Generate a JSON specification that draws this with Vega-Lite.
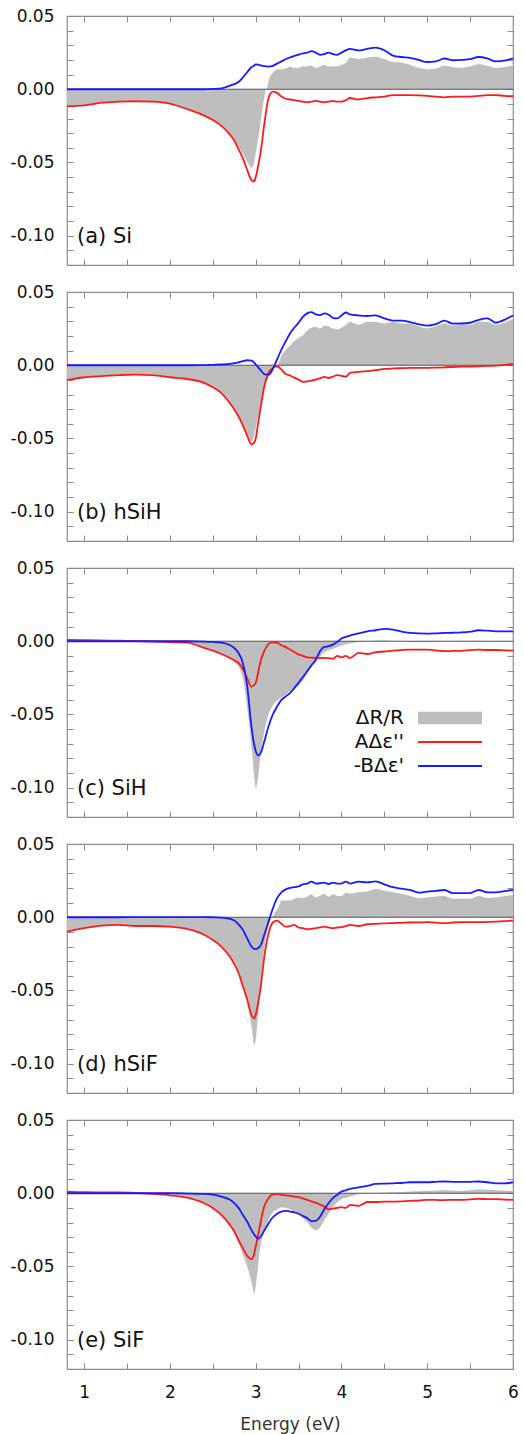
{
"$schema": "https://vega.github.io/schema/vega-lite/v6.json",
"padding": {"left": 9, "top": 6, "right": 2, "bottom": 3},
"datasets": {
"labels": [{"p":"a","t":"(a) Si"},{"p":"b","t":"(b) hSiH"},{"p":"c","t":"(c) SiH"},{"p":"d","t":"(d) hSiF"},{"p":"e","t":"(e) SiF"}],
"d": [
{"p":"a","E":0.8,"A":-0.0116,"B":0,"R":-0.0116},
{"p":"a","E":1.0,"A":-0.011,"B":0,"R":-0.011},
{"p":"a","E":1.2,"A":-0.0092,"B":0,"R":-0.0092},
{"p":"a","E":1.4,"A":-0.0085,"B":0,"R":-0.0085},
{"p":"a","E":1.6,"A":-0.0082,"B":0,"R":-0.0082},
{"p":"a","E":1.8,"A":-0.0085,"B":0,"R":-0.0085},
{"p":"a","E":2.0,"A":-0.0098,"B":0,"R":-0.0098},
{"p":"a","E":2.2,"A":-0.0135,"B":0,"R":-0.0135},
{"p":"a","E":2.4,"A":-0.018,"B":0,"R":-0.018},
{"p":"a","E":2.5,"A":-0.021,"B":0.0002,"R":-0.021},
{"p":"a","E":2.6,"A":-0.025,"B":0.0006,"R":-0.025},
{"p":"a","E":2.7,"A":-0.031,"B":0.0025,"R":-0.031},
{"p":"a","E":2.75,"A":-0.035,"B":0.0035,"R":-0.035},
{"p":"a","E":2.8,"A":-0.041,"B":0.005,"R":-0.040},
{"p":"a","E":2.85,"A":-0.047,"B":0.008,"R":-0.045},
{"p":"a","E":2.9,"A":-0.055,"B":0.0116,"R":-0.050},
{"p":"a","E":2.95,"A":-0.062,"B":0.015,"R":-0.054},
{"p":"a","E":2.98,"A":-0.063,"B":0.016,"R":-0.052},
{"p":"a","E":3.0,"A":-0.060,"B":0.017,"R":-0.046},
{"p":"a","E":3.03,"A":-0.052,"B":0.0168,"R":-0.036},
{"p":"a","E":3.06,"A":-0.042,"B":0.0163,"R":-0.024},
{"p":"a","E":3.1,"A":-0.024,"B":0.0158,"R":-0.008},
{"p":"a","E":3.15,"A":-0.006,"B":0.0155,"R":0.007},
{"p":"a","E":3.2,"A":-0.0016,"B":0.016,"R":0.012},
{"p":"a","E":3.25,"A":-0.0025,"B":0.0175,"R":0.014},
{"p":"a","E":3.3,"A":-0.005,"B":0.019,"R":0.014},
{"p":"a","E":3.35,"A":-0.0065,"B":0.0205,"R":0.0145},
{"p":"a","E":3.4,"A":-0.007,"B":0.0217,"R":0.0158},
{"p":"a","E":3.45,"A":-0.0075,"B":0.0228,"R":0.015},
{"p":"a","E":3.5,"A":-0.008,"B":0.0237,"R":0.015},
{"p":"a","E":3.55,"A":-0.0085,"B":0.0245,"R":0.016},
{"p":"a","E":3.6,"A":-0.009,"B":0.025,"R":0.016},
{"p":"a","E":3.65,"A":-0.0085,"B":0.026,"R":0.0167},
{"p":"a","E":3.7,"A":-0.008,"B":0.025,"R":0.015},
{"p":"a","E":3.75,"A":-0.0085,"B":0.0235,"R":0.016},
{"p":"a","E":3.8,"A":-0.009,"B":0.024,"R":0.017},
{"p":"a","E":3.85,"A":-0.0085,"B":0.025,"R":0.016},
{"p":"a","E":3.9,"A":-0.008,"B":0.024,"R":0.016},
{"p":"a","E":3.95,"A":-0.0085,"B":0.0235,"R":0.016},
{"p":"a","E":4.0,"A":-0.0085,"B":0.025,"R":0.017},
{"p":"a","E":4.05,"A":-0.0075,"B":0.0265,"R":0.0185},
{"p":"a","E":4.1,"A":-0.006,"B":0.0276,"R":0.022},
{"p":"a","E":4.2,"A":-0.007,"B":0.0265,"R":0.021},
{"p":"a","E":4.3,"A":-0.006,"B":0.0276,"R":0.022},
{"p":"a","E":4.4,"A":-0.0055,"B":0.0284,"R":0.0227},
{"p":"a","E":4.5,"A":-0.005,"B":0.0266,"R":0.021},
{"p":"a","E":4.6,"A":-0.004,"B":0.023,"R":0.019},
{"p":"a","E":4.7,"A":-0.004,"B":0.022,"R":0.0186},
{"p":"a","E":4.8,"A":-0.004,"B":0.0214,"R":0.017},
{"p":"a","E":4.9,"A":-0.0042,"B":0.020,"R":0.015},
{"p":"a","E":5.0,"A":-0.0045,"B":0.0186,"R":0.014},
{"p":"a","E":5.1,"A":-0.005,"B":0.019,"R":0.0145},
{"p":"a","E":5.2,"A":-0.0055,"B":0.021,"R":0.0164},
{"p":"a","E":5.3,"A":-0.005,"B":0.0198,"R":0.0155},
{"p":"a","E":5.4,"A":-0.005,"B":0.020,"R":0.015},
{"p":"a","E":5.5,"A":-0.005,"B":0.0205,"R":0.016},
{"p":"a","E":5.6,"A":-0.0045,"B":0.022,"R":0.0175},
{"p":"a","E":5.7,"A":-0.004,"B":0.021,"R":0.0164},
{"p":"a","E":5.8,"A":-0.004,"B":0.019,"R":0.015},
{"p":"a","E":5.9,"A":-0.0045,"B":0.0195,"R":0.0155},
{"p":"a","E":6.0,"A":-0.0048,"B":0.021,"R":0.0168},
{"p":"b","E":0.8,"A":-0.0102,"B":0,"R":-0.0102},
{"p":"b","E":1.0,"A":-0.0082,"B":0,"R":-0.0082},
{"p":"b","E":1.2,"A":-0.0074,"B":0,"R":-0.0074},
{"p":"b","E":1.4,"A":-0.0068,"B":0,"R":-0.0068},
{"p":"b","E":1.6,"A":-0.0064,"B":0,"R":-0.0064},
{"p":"b","E":1.8,"A":-0.0068,"B":0,"R":-0.0068},
{"p":"b","E":2.0,"A":-0.0082,"B":0,"R":-0.0082},
{"p":"b","E":2.2,"A":-0.0094,"B":0,"R":-0.0094},
{"p":"b","E":2.4,"A":-0.012,"B":0.0001,"R":-0.012},
{"p":"b","E":2.5,"A":-0.015,"B":0.0003,"R":-0.015},
{"p":"b","E":2.6,"A":-0.019,"B":0.0005,"R":-0.019},
{"p":"b","E":2.7,"A":-0.026,"B":0.001,"R":-0.026},
{"p":"b","E":2.75,"A":-0.030,"B":0.0015,"R":-0.030},
{"p":"b","E":2.8,"A":-0.035,"B":0.002,"R":-0.035},
{"p":"b","E":2.85,"A":-0.041,"B":0.0028,"R":-0.041},
{"p":"b","E":2.9,"A":-0.048,"B":0.0034,"R":-0.048},
{"p":"b","E":2.95,"A":-0.054,"B":0.0032,"R":-0.053},
{"p":"b","E":2.98,"A":-0.053,"B":0.002,"R":-0.050},
{"p":"b","E":3.0,"A":-0.050,"B":0.0005,"R":-0.045},
{"p":"b","E":3.03,"A":-0.039,"B":-0.0015,"R":-0.036},
{"p":"b","E":3.06,"A":-0.028,"B":-0.0035,"R":-0.028},
{"p":"b","E":3.1,"A":-0.0144,"B":-0.006,"R":-0.017},
{"p":"b","E":3.15,"A":-0.0053,"B":-0.0064,"R":-0.009},
{"p":"b","E":3.2,"A":-0.0018,"B":-0.0025,"R":-0.004},
{"p":"b","E":3.25,"A":-0.0007,"B":0.004,"R":0.0},
{"p":"b","E":3.3,"A":-0.003,"B":0.0107,"R":0.0073},
{"p":"b","E":3.35,"A":-0.006,"B":0.0164,"R":0.011},
{"p":"b","E":3.4,"A":-0.007,"B":0.0217,"R":0.014},
{"p":"b","E":3.45,"A":-0.0085,"B":0.0256,"R":0.017},
{"p":"b","E":3.5,"A":-0.0098,"B":0.029,"R":0.019},
{"p":"b","E":3.55,"A":-0.0114,"B":0.033,"R":0.021},
{"p":"b","E":3.6,"A":-0.011,"B":0.0354,"R":0.0244},
{"p":"b","E":3.65,"A":-0.0105,"B":0.0363,"R":0.026},
{"p":"b","E":3.7,"A":-0.0098,"B":0.0347,"R":0.0267},
{"p":"b","E":3.75,"A":-0.009,"B":0.0342,"R":0.0256},
{"p":"b","E":3.8,"A":-0.008,"B":0.0354,"R":0.0274},
{"p":"b","E":3.85,"A":-0.0087,"B":0.0345,"R":0.027},
{"p":"b","E":3.9,"A":-0.0078,"B":0.0324,"R":0.0255},
{"p":"b","E":3.95,"A":-0.0068,"B":0.032,"R":0.025},
{"p":"b","E":4.0,"A":-0.0072,"B":0.034,"R":0.026},
{"p":"b","E":4.05,"A":-0.0078,"B":0.036,"R":0.028},
{"p":"b","E":4.1,"A":-0.0053,"B":0.0347,"R":0.030},
{"p":"b","E":4.2,"A":-0.0046,"B":0.034,"R":0.028},
{"p":"b","E":4.3,"A":-0.004,"B":0.0336,"R":0.030},
{"p":"b","E":4.4,"A":-0.0034,"B":0.034,"R":0.030},
{"p":"b","E":4.5,"A":-0.0025,"B":0.032,"R":0.029},
{"p":"b","E":4.6,"A":-0.0022,"B":0.0305,"R":0.030},
{"p":"b","E":4.7,"A":-0.002,"B":0.0305,"R":0.029},
{"p":"b","E":4.8,"A":-0.0018,"B":0.0295,"R":0.029},
{"p":"b","E":4.9,"A":-0.0018,"B":0.028,"R":0.027},
{"p":"b","E":5.0,"A":-0.0018,"B":0.027,"R":0.0255},
{"p":"b","E":5.1,"A":-0.0016,"B":0.028,"R":0.027},
{"p":"b","E":5.2,"A":-0.0014,"B":0.0305,"R":0.029},
{"p":"b","E":5.3,"A":-0.0012,"B":0.0284,"R":0.0275},
{"p":"b","E":5.4,"A":-0.001,"B":0.0285,"R":0.028},
{"p":"b","E":5.5,"A":-0.001,"B":0.029,"R":0.028},
{"p":"b","E":5.6,"A":-0.0007,"B":0.031,"R":0.030},
{"p":"b","E":5.7,"A":-0.0005,"B":0.032,"R":0.030},
{"p":"b","E":5.8,"A":-0.0002,"B":0.029,"R":0.028},
{"p":"b","E":5.9,"A":0.0003,"B":0.031,"R":0.0295},
{"p":"b","E":6.0,"A":0.001,"B":0.034,"R":0.032},
{"p":"c","E":0.8,"A":0.001,"B":0,"R":0},
{"p":"c","E":1.0,"A":0.0007,"B":0,"R":0},
{"p":"c","E":1.2,"A":0.0005,"B":0,"R":0},
{"p":"c","E":1.4,"A":0.0004,"B":0,"R":0},
{"p":"c","E":1.6,"A":0.0001,"B":0,"R":0},
{"p":"c","E":1.8,"A":-0.0003,"B":0,"R":0},
{"p":"c","E":2.0,"A":-0.0006,"B":0,"R":-0.0003},
{"p":"c","E":2.2,"A":-0.001,"B":0,"R":-0.0008},
{"p":"c","E":2.4,"A":-0.0046,"B":-0.0002,"R":-0.0045},
{"p":"c","E":2.5,"A":-0.0064,"B":-0.0005,"R":-0.0065},
{"p":"c","E":2.6,"A":-0.0087,"B":-0.001,"R":-0.0095},
{"p":"c","E":2.7,"A":-0.0114,"B":-0.0027,"R":-0.0125},
{"p":"c","E":2.75,"A":-0.013,"B":-0.0046,"R":-0.015},
{"p":"c","E":2.8,"A":-0.0148,"B":-0.008,"R":-0.018},
{"p":"c","E":2.85,"A":-0.019,"B":-0.0148,"R":-0.027},
{"p":"c","E":2.9,"A":-0.025,"B":-0.030,"R":-0.048},
{"p":"c","E":2.95,"A":-0.031,"B":-0.058,"R":-0.075},
{"p":"c","E":2.98,"A":-0.030,"B":-0.070,"R":-0.095},
{"p":"c","E":3.0,"A":-0.0285,"B":-0.075,"R":-0.101},
{"p":"c","E":3.03,"A":-0.021,"B":-0.078,"R":-0.095},
{"p":"c","E":3.06,"A":-0.013,"B":-0.076,"R":-0.080},
{"p":"c","E":3.1,"A":-0.0068,"B":-0.0685,"R":-0.064},
{"p":"c","E":3.15,"A":-0.0018,"B":-0.058,"R":-0.051},
{"p":"c","E":3.2,"A":-0.0007,"B":-0.050,"R":-0.0445},
{"p":"c","E":3.25,"A":-0.001,"B":-0.0445,"R":-0.041},
{"p":"c","E":3.3,"A":-0.0027,"B":-0.040,"R":-0.039},
{"p":"c","E":3.35,"A":-0.004,"B":-0.0377,"R":-0.037},
{"p":"c","E":3.4,"A":-0.0057,"B":-0.0354,"R":-0.0347},
{"p":"c","E":3.45,"A":-0.0073,"B":-0.032,"R":-0.0324},
{"p":"c","E":3.5,"A":-0.009,"B":-0.0283,"R":-0.031},
{"p":"c","E":3.55,"A":-0.010,"B":-0.0245,"R":-0.0274},
{"p":"c","E":3.6,"A":-0.011,"B":-0.0205,"R":-0.023},
{"p":"c","E":3.65,"A":-0.0112,"B":-0.0165,"R":-0.018},
{"p":"c","E":3.7,"A":-0.0114,"B":-0.0126,"R":-0.015},
{"p":"c","E":3.75,"A":-0.0115,"B":-0.0068,"R":-0.0114},
{"p":"c","E":3.8,"A":-0.0114,"B":-0.0039,"R":-0.008},
{"p":"c","E":3.85,"A":-0.0116,"B":-0.0034,"R":-0.0065},
{"p":"c","E":3.9,"A":-0.0119,"B":-0.0023,"R":-0.0057},
{"p":"c","E":3.95,"A":-0.010,"B":-0.0005,"R":-0.0045},
{"p":"c","E":4.0,"A":-0.011,"B":0.0018,"R":-0.0034},
{"p":"c","E":4.05,"A":-0.010,"B":0.003,"R":-0.0025},
{"p":"c","E":4.1,"A":-0.0114,"B":0.0039,"R":-0.0018},
{"p":"c","E":4.2,"A":-0.008,"B":0.0053,"R":-0.001},
{"p":"c","E":4.3,"A":-0.0087,"B":0.0068,"R":0},
{"p":"c","E":4.4,"A":-0.0075,"B":0.0075,"R":0.0008},
{"p":"c","E":4.5,"A":-0.007,"B":0.0084,"R":0.001},
{"p":"c","E":4.6,"A":-0.0064,"B":0.008,"R":0.0005},
{"p":"c","E":4.7,"A":-0.006,"B":0.0066,"R":0},
{"p":"c","E":4.8,"A":-0.0057,"B":0.0057,"R":-0.0008},
{"p":"c","E":4.9,"A":-0.0057,"B":0.0053,"R":-0.001},
{"p":"c","E":5.0,"A":-0.0057,"B":0.0052,"R":-0.0008},
{"p":"c","E":5.1,"A":-0.0062,"B":0.0054,"R":-0.0003},
{"p":"c","E":5.2,"A":-0.0068,"B":0.0057,"R":0},
{"p":"c","E":5.3,"A":-0.0066,"B":0.0058,"R":0},
{"p":"c","E":5.4,"A":-0.0066,"B":0.006,"R":0.0003},
{"p":"c","E":5.5,"A":-0.006,"B":0.0065,"R":0.0005},
{"p":"c","E":5.6,"A":-0.0057,"B":0.0075,"R":0.0006},
{"p":"c","E":5.7,"A":-0.006,"B":0.0072,"R":0.0004},
{"p":"c","E":5.8,"A":-0.006,"B":0.0068,"R":0.0002},
{"p":"c","E":5.9,"A":-0.0062,"B":0.0068,"R":0.0001},
{"p":"c","E":6.0,"A":-0.0064,"B":0.0068,"R":0},
{"p":"d","E":0.8,"A":-0.0098,"B":0,"R":-0.0098},
{"p":"d","E":1.0,"A":-0.0075,"B":0,"R":-0.0075},
{"p":"d","E":1.2,"A":-0.0057,"B":0,"R":-0.0057},
{"p":"d","E":1.4,"A":-0.0052,"B":0,"R":-0.0052},
{"p":"d","E":1.6,"A":-0.006,"B":0.0001,"R":-0.006},
{"p":"d","E":1.8,"A":-0.006,"B":0.0001,"R":-0.006},
{"p":"d","E":2.0,"A":-0.0064,"B":0.0001,"R":-0.0064},
{"p":"d","E":2.2,"A":-0.008,"B":0.0001,"R":-0.008},
{"p":"d","E":2.4,"A":-0.012,"B":0.0001,"R":-0.012},
{"p":"d","E":2.5,"A":-0.0155,"B":0,"R":-0.0155},
{"p":"d","E":2.6,"A":-0.020,"B":-0.0002,"R":-0.020},
{"p":"d","E":2.7,"A":-0.027,"B":-0.0011,"R":-0.027},
{"p":"d","E":2.75,"A":-0.032,"B":-0.0023,"R":-0.032},
{"p":"d","E":2.8,"A":-0.038,"B":-0.0048,"R":-0.038},
{"p":"d","E":2.85,"A":-0.047,"B":-0.0086,"R":-0.048},
{"p":"d","E":2.9,"A":-0.056,"B":-0.0143,"R":-0.059},
{"p":"d","E":2.95,"A":-0.0666,"B":-0.020,"R":-0.077},
{"p":"d","E":2.98,"A":-0.069,"B":-0.0215,"R":-0.088},
{"p":"d","E":3.0,"A":-0.0666,"B":-0.0218,"R":-0.086},
{"p":"d","E":3.03,"A":-0.058,"B":-0.021,"R":-0.070},
{"p":"d","E":3.06,"A":-0.047,"B":-0.019,"R":-0.050},
{"p":"d","E":3.1,"A":-0.027,"B":-0.012,"R":-0.0245},
{"p":"d","E":3.15,"A":-0.011,"B":-0.003,"R":-0.0075},
{"p":"d","E":3.2,"A":-0.0036,"B":0.006,"R":0.0016},
{"p":"d","E":3.25,"A":-0.0023,"B":0.013,"R":0.006},
{"p":"d","E":3.3,"A":-0.0045,"B":0.017,"R":0.0118},
{"p":"d","E":3.35,"A":-0.0064,"B":0.019,"R":0.0118},
{"p":"d","E":3.4,"A":-0.006,"B":0.020,"R":0.0118},
{"p":"d","E":3.45,"A":-0.0052,"B":0.0205,"R":0.013},
{"p":"d","E":3.5,"A":-0.007,"B":0.021,"R":0.014},
{"p":"d","E":3.55,"A":-0.0075,"B":0.0225,"R":0.0135},
{"p":"d","E":3.6,"A":-0.0082,"B":0.023,"R":0.0145},
{"p":"d","E":3.65,"A":-0.008,"B":0.0243,"R":0.016},
{"p":"d","E":3.7,"A":-0.0075,"B":0.023,"R":0.014},
{"p":"d","E":3.75,"A":-0.007,"B":0.0232,"R":0.015},
{"p":"d","E":3.8,"A":-0.0064,"B":0.0236,"R":0.0164},
{"p":"d","E":3.85,"A":-0.007,"B":0.0227,"R":0.0145},
{"p":"d","E":3.9,"A":-0.0075,"B":0.0236,"R":0.016},
{"p":"d","E":3.95,"A":-0.007,"B":0.023,"R":0.015},
{"p":"d","E":4.0,"A":-0.0068,"B":0.023,"R":0.015},
{"p":"d","E":4.05,"A":-0.006,"B":0.0243,"R":0.017},
{"p":"d","E":4.1,"A":-0.0052,"B":0.023,"R":0.0165},
{"p":"d","E":4.2,"A":-0.006,"B":0.0243,"R":0.0175},
{"p":"d","E":4.3,"A":-0.0048,"B":0.0238,"R":0.018},
{"p":"d","E":4.4,"A":-0.0045,"B":0.0245,"R":0.0198},
{"p":"d","E":4.5,"A":-0.0042,"B":0.0225,"R":0.0186},
{"p":"d","E":4.6,"A":-0.004,"B":0.0205,"R":0.0175},
{"p":"d","E":4.7,"A":-0.0038,"B":0.0195,"R":0.0164},
{"p":"d","E":4.8,"A":-0.0036,"B":0.0186,"R":0.015},
{"p":"d","E":4.9,"A":-0.0035,"B":0.0168,"R":0.0134},
{"p":"d","E":5.0,"A":-0.0034,"B":0.0175,"R":0.014},
{"p":"d","E":5.1,"A":-0.0037,"B":0.018,"R":0.0145},
{"p":"d","E":5.2,"A":-0.004,"B":0.0186,"R":0.015},
{"p":"d","E":5.3,"A":-0.0036,"B":0.0164,"R":0.013},
{"p":"d","E":5.4,"A":-0.0034,"B":0.0165,"R":0.013},
{"p":"d","E":5.5,"A":-0.0034,"B":0.0165,"R":0.013},
{"p":"d","E":5.6,"A":-0.0034,"B":0.0186,"R":0.015},
{"p":"d","E":5.7,"A":-0.0032,"B":0.017,"R":0.0135},
{"p":"d","E":5.8,"A":-0.003,"B":0.017,"R":0.014},
{"p":"d","E":5.9,"A":-0.0027,"B":0.0178,"R":0.0148},
{"p":"d","E":6.0,"A":-0.0023,"B":0.0186,"R":0.0157},
{"p":"e","E":0.8,"A":0.0011,"B":0,"R":0},
{"p":"e","E":1.0,"A":0.0007,"B":0,"R":0},
{"p":"e","E":1.2,"A":0.0006,"B":0,"R":0},
{"p":"e","E":1.4,"A":0.0005,"B":0,"R":0},
{"p":"e","E":1.6,"A":0.0002,"B":0,"R":0},
{"p":"e","E":1.8,"A":-0.0005,"B":0,"R":-0.0003},
{"p":"e","E":2.0,"A":-0.0014,"B":0,"R":-0.001},
{"p":"e","E":2.2,"A":-0.003,"B":-0.0002,"R":-0.003},
{"p":"e","E":2.4,"A":-0.0068,"B":-0.0005,"R":-0.0068},
{"p":"e","E":2.5,"A":-0.010,"B":-0.001,"R":-0.010},
{"p":"e","E":2.6,"A":-0.0148,"B":-0.0023,"R":-0.015},
{"p":"e","E":2.7,"A":-0.0216,"B":-0.0045,"R":-0.0227},
{"p":"e","E":2.75,"A":-0.026,"B":-0.0068,"R":-0.029},
{"p":"e","E":2.8,"A":-0.032,"B":-0.010,"R":-0.035},
{"p":"e","E":2.85,"A":-0.0375,"B":-0.0148,"R":-0.043},
{"p":"e","E":2.9,"A":-0.0427,"B":-0.0193,"R":-0.051},
{"p":"e","E":2.95,"A":-0.045,"B":-0.025,"R":-0.062},
{"p":"e","E":2.98,"A":-0.042,"B":-0.028,"R":-0.069},
{"p":"e","E":3.0,"A":-0.0364,"B":-0.0295,"R":-0.066},
{"p":"e","E":3.03,"A":-0.028,"B":-0.031,"R":-0.052},
{"p":"e","E":3.06,"A":-0.019,"B":-0.0295,"R":-0.037},
{"p":"e","E":3.1,"A":-0.009,"B":-0.0255,"R":-0.027},
{"p":"e","E":3.15,"A":-0.0034,"B":-0.0205,"R":-0.019},
{"p":"e","E":3.2,"A":-0.0007,"B":-0.0164,"R":-0.0136},
{"p":"e","E":3.25,"A":-0.0005,"B":-0.014,"R":-0.0115},
{"p":"e","E":3.3,"A":-0.0011,"B":-0.0125,"R":-0.010},
{"p":"e","E":3.35,"A":-0.0014,"B":-0.012,"R":-0.0105},
{"p":"e","E":3.4,"A":-0.0018,"B":-0.0125,"R":-0.0114},
{"p":"e","E":3.45,"A":-0.0022,"B":-0.013,"R":-0.013},
{"p":"e","E":3.5,"A":-0.0027,"B":-0.014,"R":-0.0148},
{"p":"e","E":3.55,"A":-0.0035,"B":-0.0155,"R":-0.0175},
{"p":"e","E":3.6,"A":-0.0045,"B":-0.017,"R":-0.0205},
{"p":"e","E":3.65,"A":-0.0055,"B":-0.019,"R":-0.024},
{"p":"e","E":3.7,"A":-0.0064,"B":-0.0188,"R":-0.0255},
{"p":"e","E":3.75,"A":-0.0078,"B":-0.016,"R":-0.024},
{"p":"e","E":3.8,"A":-0.009,"B":-0.011,"R":-0.019},
{"p":"e","E":3.85,"A":-0.011,"B":-0.0068,"R":-0.0148},
{"p":"e","E":3.9,"A":-0.0105,"B":-0.0034,"R":-0.010},
{"p":"e","E":3.95,"A":-0.010,"B":-0.0011,"R":-0.0068},
{"p":"e","E":4.0,"A":-0.0095,"B":0.0011,"R":-0.0045},
{"p":"e","E":4.05,"A":-0.010,"B":0.002,"R":-0.0035},
{"p":"e","E":4.1,"A":-0.008,"B":0.003,"R":-0.0027},
{"p":"e","E":4.2,"A":-0.0086,"B":0.004,"R":-0.0011},
{"p":"e","E":4.3,"A":-0.006,"B":0.005,"R":0},
{"p":"e","E":4.4,"A":-0.006,"B":0.0064,"R":0.0005},
{"p":"e","E":4.5,"A":-0.0057,"B":0.0066,"R":0.0008},
{"p":"e","E":4.6,"A":-0.0057,"B":0.0068,"R":0.001},
{"p":"e","E":4.7,"A":-0.0055,"B":0.007,"R":0.0012},
{"p":"e","E":4.8,"A":-0.0052,"B":0.0075,"R":0.0015},
{"p":"e","E":4.9,"A":-0.005,"B":0.0075,"R":0.0018},
{"p":"e","E":5.0,"A":-0.0045,"B":0.0075,"R":0.002},
{"p":"e","E":5.1,"A":-0.0046,"B":0.0078,"R":0.0022},
{"p":"e","E":5.2,"A":-0.0047,"B":0.008,"R":0.0025},
{"p":"e","E":5.3,"A":-0.0045,"B":0.0078,"R":0.0022},
{"p":"e","E":5.4,"A":-0.0045,"B":0.0077,"R":0.002},
{"p":"e","E":5.5,"A":-0.0042,"B":0.0078,"R":0.0025},
{"p":"e","E":5.6,"A":-0.0039,"B":0.008,"R":0.003},
{"p":"e","E":5.7,"A":-0.004,"B":0.0075,"R":0.0028},
{"p":"e","E":5.8,"A":-0.004,"B":0.0068,"R":0.0025},
{"p":"e","E":5.9,"A":-0.0043,"B":0.0068,"R":0.0022},
{"p":"e","E":6.0,"A":-0.0045,"B":0.0075,"R":0.002}
]},
"spacing": 27,
"bounds": "flush",
"resolve": {"scale": {"color": "independent"}, "legend": {"color": "independent"}},
"vconcat": [
{"width": 446, "height": 249, "data": {"name": "d"}, "transform": [{"filter": "datum.p === 'a'"}],
 "resolve": {"scale": {"x": "independent", "y": "independent"}},
 "layer": [
  {"layer": [
   {"mark": {"type": "area", "interpolate": "monotone"},
    "encoding": {"x": {"field": "E", "type": "quantitative", "scale": {"domain": [0.8, 6], "nice": false, "zero": false}, "axis": null},
     "y": {"field": "R", "type": "quantitative", "scale": {"domain": [-0.12, 0.05], "nice": false, "zero": false}, "axis": {"orient": "left", "values": [-0.1, -0.05, 0, 0.05], "format": ".2f", "labelExpr": "replace(datum.label, '\u2212', '-')", "labelPadding": 19, "title": null}},
     "y2": {"datum": 0},
     "color": {"datum": "ΔR/R", "type": "nominal", "scale": {"domain": ["ΔR/R", "AΔε''", "-BΔε'"], "range": ["#bebebe", "#ff1a1a", "#1a1aff"]}, "legend": null}}},
   {"mark": {"type": "line", "interpolate": "monotone", "stroke": "white", "strokeWidth": 1.3, "opacity": 0.85}, "encoding": {"x": {"field": "E", "type": "quantitative"}, "y": {"field": "R", "type": "quantitative"}}},
   {"data": {"values": [{}]}, "mark": {"type": "rule", "color": "#555", "strokeWidth": 1}, "encoding": {"y": {"datum": 0}}},
   {"mark": {"type": "line", "interpolate": "monotone", "strokeWidth": 1.8}, "encoding": {"x": {"field": "E", "type": "quantitative"}, "y": {"field": "A", "type": "quantitative"}, "color": {"datum": "AΔε''", "type": "nominal", "legend": null}}},
   {"mark": {"type": "line", "interpolate": "monotone", "strokeWidth": 1.8}, "encoding": {"x": {"field": "E", "type": "quantitative"}, "y": {"field": "B", "type": "quantitative"}, "color": {"datum": "-BΔε'", "type": "nominal", "legend": null}}},
   {"data": {"name": "labels"}, "transform": [{"filter": "datum.p === 'a'"}], "mark": {"type": "text", "align": "left", "baseline": "middle", "dx": 10, "dy": 1, "fontSize": 21, "font": "DejaVu Sans", "color": "#111"}, "encoding": {"x": {"datum": 0.8}, "y": {"datum": -0.1}, "text": {"field": "t"}}}
  ]},
  {"mark": {"type": "point", "opacity": 0}, "encoding": {"x": {"field": "E", "type": "quantitative", "scale": {"domain": [0.8, 6], "nice": false, "zero": false}, "axis": {"orient": "top", "values": [1,1.5,2,2.5,3,3.5,4,4.5,5,5.5,6], "labels": false, "title": null}}, "y": {"field": "R", "type": "quantitative", "scale": {"domain": [-0.12, 0.05], "nice": false, "zero": false}, "axis": {"orient": "right", "values": [-0.12,-0.11,-0.1,-0.09,-0.08,-0.07,-0.06,-0.05,-0.04,-0.03,-0.02,-0.01,0,0.01,0.02,0.03,0.04,0.05], "labels": false, "title": null}}}},
  {"mark": {"type": "point", "opacity": 0}, "encoding": {"x": {"field": "E", "type": "quantitative", "scale": {"domain": [0.8, 6], "nice": false, "zero": false}, "axis": {"orient": "bottom", "values": [1,1.5,2,2.5,3,3.5,4,4.5,5,5.5,6], "labels": false, "title": null}}, "y": {"field": "R", "type": "quantitative", "scale": {"domain": [-0.12, 0.05], "nice": false, "zero": false}, "axis": {"orient": "left", "values": [-0.12,-0.11,-0.1,-0.09,-0.08,-0.07,-0.06,-0.05,-0.04,-0.03,-0.02,-0.01,0,0.01,0.02,0.03,0.04,0.05], "labels": false, "title": null}}}}
 ]},
{"width": 446, "height": 249, "data": {"name": "d"}, "transform": [{"filter": "datum.p === 'b'"}],
 "resolve": {"scale": {"x": "independent", "y": "independent"}},
 "layer": [
  {"layer": [
   {"mark": {"type": "area", "interpolate": "monotone"},
    "encoding": {"x": {"field": "E", "type": "quantitative", "scale": {"domain": [0.8, 6], "nice": false, "zero": false}, "axis": null},
     "y": {"field": "R", "type": "quantitative", "scale": {"domain": [-0.12, 0.05], "nice": false, "zero": false}, "axis": {"orient": "left", "values": [-0.1, -0.05, 0, 0.05], "format": ".2f", "labelExpr": "replace(datum.label, '\u2212', '-')", "labelPadding": 19, "title": null}},
     "y2": {"datum": 0},
     "color": {"datum": "ΔR/R", "type": "nominal", "scale": {"domain": ["ΔR/R", "AΔε''", "-BΔε'"], "range": ["#bebebe", "#ff1a1a", "#1a1aff"]}, "legend": null}}},
   {"mark": {"type": "line", "interpolate": "monotone", "stroke": "white", "strokeWidth": 1.3, "opacity": 0.85}, "encoding": {"x": {"field": "E", "type": "quantitative"}, "y": {"field": "R", "type": "quantitative"}}},
   {"data": {"values": [{}]}, "mark": {"type": "rule", "color": "#555", "strokeWidth": 1}, "encoding": {"y": {"datum": 0}}},
   {"mark": {"type": "line", "interpolate": "monotone", "strokeWidth": 1.8}, "encoding": {"x": {"field": "E", "type": "quantitative"}, "y": {"field": "A", "type": "quantitative"}, "color": {"datum": "AΔε''", "type": "nominal", "legend": null}}},
   {"mark": {"type": "line", "interpolate": "monotone", "strokeWidth": 1.8}, "encoding": {"x": {"field": "E", "type": "quantitative"}, "y": {"field": "B", "type": "quantitative"}, "color": {"datum": "-BΔε'", "type": "nominal", "legend": null}}},
   {"data": {"name": "labels"}, "transform": [{"filter": "datum.p === 'b'"}], "mark": {"type": "text", "align": "left", "baseline": "middle", "dx": 10, "dy": 1, "fontSize": 21, "font": "DejaVu Sans", "color": "#111"}, "encoding": {"x": {"datum": 0.8}, "y": {"datum": -0.1}, "text": {"field": "t"}}}
  ]},
  {"mark": {"type": "point", "opacity": 0}, "encoding": {"x": {"field": "E", "type": "quantitative", "scale": {"domain": [0.8, 6], "nice": false, "zero": false}, "axis": {"orient": "top", "values": [1,1.5,2,2.5,3,3.5,4,4.5,5,5.5,6], "labels": false, "title": null}}, "y": {"field": "R", "type": "quantitative", "scale": {"domain": [-0.12, 0.05], "nice": false, "zero": false}, "axis": {"orient": "right", "values": [-0.12,-0.11,-0.1,-0.09,-0.08,-0.07,-0.06,-0.05,-0.04,-0.03,-0.02,-0.01,0,0.01,0.02,0.03,0.04,0.05], "labels": false, "title": null}}}},
  {"mark": {"type": "point", "opacity": 0}, "encoding": {"x": {"field": "E", "type": "quantitative", "scale": {"domain": [0.8, 6], "nice": false, "zero": false}, "axis": {"orient": "bottom", "values": [1,1.5,2,2.5,3,3.5,4,4.5,5,5.5,6], "labels": false, "title": null}}, "y": {"field": "R", "type": "quantitative", "scale": {"domain": [-0.12, 0.05], "nice": false, "zero": false}, "axis": {"orient": "left", "values": [-0.12,-0.11,-0.1,-0.09,-0.08,-0.07,-0.06,-0.05,-0.04,-0.03,-0.02,-0.01,0,0.01,0.02,0.03,0.04,0.05], "labels": false, "title": null}}}}
 ]},
{"width": 446, "height": 249, "data": {"name": "d"}, "transform": [{"filter": "datum.p === 'c'"}],
 "resolve": {"scale": {"x": "independent", "y": "independent"}},
 "layer": [
  {"layer": [
   {"mark": {"type": "area", "interpolate": "monotone"},
    "encoding": {"x": {"field": "E", "type": "quantitative", "scale": {"domain": [0.8, 6], "nice": false, "zero": false}, "axis": null},
     "y": {"field": "R", "type": "quantitative", "scale": {"domain": [-0.12, 0.05], "nice": false, "zero": false}, "axis": {"orient": "left", "values": [-0.1, -0.05, 0, 0.05], "format": ".2f", "labelExpr": "replace(datum.label, '\u2212', '-')", "labelPadding": 19, "title": null}},
     "y2": {"datum": 0},
     "color": {"datum": "ΔR/R", "type": "nominal", "scale": {"domain": ["ΔR/R", "AΔε''", "-BΔε'"], "range": ["#bebebe", "#ff1a1a", "#1a1aff"]},
      "legend": {"orient": "none", "legendX": 373, "legendY": 140, "title": null, "padding": 0, "symbolSize": 400, "rowPadding": 4, "labelAlign": "right", "labelOffset": -56, "labelFontSize": 20, "labelFont": "DejaVu Sans", "labelColor": "#111", "labelLimit": 300,
       "encode": {"symbols": {"update": {
         "shape": {"signal": "datum.index === 0 ? 'M-3.2,-0.62L3.2,-0.62L3.2,0.62L-3.2,0.62Z' : 'M-3.2,-0.1L3.2,-0.1L3.2,0.1L-3.2,0.1Z'"},
         "fill": {"signal": "datum.index === 0 ? '#bebebe' : (datum.index === 1 ? '#ff1a1a' : '#1a1aff')"},
         "stroke": {"value": "transparent"}, "strokeWidth": {"value": 0}, "opacity": {"value": 1}}}}}}}},
   {"mark": {"type": "line", "interpolate": "monotone", "stroke": "white", "strokeWidth": 1.3, "opacity": 0.85}, "encoding": {"x": {"field": "E", "type": "quantitative"}, "y": {"field": "R", "type": "quantitative"}}},
   {"data": {"values": [{}]}, "mark": {"type": "rule", "color": "#555", "strokeWidth": 1}, "encoding": {"y": {"datum": 0}}},
   {"mark": {"type": "line", "interpolate": "monotone", "strokeWidth": 1.8}, "encoding": {"x": {"field": "E", "type": "quantitative"}, "y": {"field": "A", "type": "quantitative"}, "color": {"datum": "AΔε''", "type": "nominal"}}},
   {"mark": {"type": "line", "interpolate": "monotone", "strokeWidth": 1.8}, "encoding": {"x": {"field": "E", "type": "quantitative"}, "y": {"field": "B", "type": "quantitative"}, "color": {"datum": "-BΔε'", "type": "nominal"}}},
   {"data": {"name": "labels"}, "transform": [{"filter": "datum.p === 'c'"}], "mark": {"type": "text", "align": "left", "baseline": "middle", "dx": 10, "dy": 1, "fontSize": 21, "font": "DejaVu Sans", "color": "#111"}, "encoding": {"x": {"datum": 0.8}, "y": {"datum": -0.1}, "text": {"field": "t"}}}
  ]},
  {"mark": {"type": "point", "opacity": 0}, "encoding": {"x": {"field": "E", "type": "quantitative", "scale": {"domain": [0.8, 6], "nice": false, "zero": false}, "axis": {"orient": "top", "values": [1,1.5,2,2.5,3,3.5,4,4.5,5,5.5,6], "labels": false, "title": null}}, "y": {"field": "R", "type": "quantitative", "scale": {"domain": [-0.12, 0.05], "nice": false, "zero": false}, "axis": {"orient": "right", "values": [-0.12,-0.11,-0.1,-0.09,-0.08,-0.07,-0.06,-0.05,-0.04,-0.03,-0.02,-0.01,0,0.01,0.02,0.03,0.04,0.05], "labels": false, "title": null}}}},
  {"mark": {"type": "point", "opacity": 0}, "encoding": {"x": {"field": "E", "type": "quantitative", "scale": {"domain": [0.8, 6], "nice": false, "zero": false}, "axis": {"orient": "bottom", "values": [1,1.5,2,2.5,3,3.5,4,4.5,5,5.5,6], "labels": false, "title": null}}, "y": {"field": "R", "type": "quantitative", "scale": {"domain": [-0.12, 0.05], "nice": false, "zero": false}, "axis": {"orient": "left", "values": [-0.12,-0.11,-0.1,-0.09,-0.08,-0.07,-0.06,-0.05,-0.04,-0.03,-0.02,-0.01,0,0.01,0.02,0.03,0.04,0.05], "labels": false, "title": null}}}}
 ]},
{"width": 446, "height": 249, "data": {"name": "d"}, "transform": [{"filter": "datum.p === 'd'"}],
 "resolve": {"scale": {"x": "independent", "y": "independent"}},
 "layer": [
  {"layer": [
   {"mark": {"type": "area", "interpolate": "monotone"},
    "encoding": {"x": {"field": "E", "type": "quantitative", "scale": {"domain": [0.8, 6], "nice": false, "zero": false}, "axis": null},
     "y": {"field": "R", "type": "quantitative", "scale": {"domain": [-0.12, 0.05], "nice": false, "zero": false}, "axis": {"orient": "left", "values": [-0.1, -0.05, 0, 0.05], "format": ".2f", "labelExpr": "replace(datum.label, '\u2212', '-')", "labelPadding": 19, "title": null}},
     "y2": {"datum": 0},
     "color": {"datum": "ΔR/R", "type": "nominal", "scale": {"domain": ["ΔR/R", "AΔε''", "-BΔε'"], "range": ["#bebebe", "#ff1a1a", "#1a1aff"]}, "legend": null}}},
   {"mark": {"type": "line", "interpolate": "monotone", "stroke": "white", "strokeWidth": 1.3, "opacity": 0.85}, "encoding": {"x": {"field": "E", "type": "quantitative"}, "y": {"field": "R", "type": "quantitative"}}},
   {"data": {"values": [{}]}, "mark": {"type": "rule", "color": "#555", "strokeWidth": 1}, "encoding": {"y": {"datum": 0}}},
   {"mark": {"type": "line", "interpolate": "monotone", "strokeWidth": 1.8}, "encoding": {"x": {"field": "E", "type": "quantitative"}, "y": {"field": "A", "type": "quantitative"}, "color": {"datum": "AΔε''", "type": "nominal", "legend": null}}},
   {"mark": {"type": "line", "interpolate": "monotone", "strokeWidth": 1.8}, "encoding": {"x": {"field": "E", "type": "quantitative"}, "y": {"field": "B", "type": "quantitative"}, "color": {"datum": "-BΔε'", "type": "nominal", "legend": null}}},
   {"data": {"name": "labels"}, "transform": [{"filter": "datum.p === 'd'"}], "mark": {"type": "text", "align": "left", "baseline": "middle", "dx": 10, "dy": 1, "fontSize": 21, "font": "DejaVu Sans", "color": "#111"}, "encoding": {"x": {"datum": 0.8}, "y": {"datum": -0.1}, "text": {"field": "t"}}}
  ]},
  {"mark": {"type": "point", "opacity": 0}, "encoding": {"x": {"field": "E", "type": "quantitative", "scale": {"domain": [0.8, 6], "nice": false, "zero": false}, "axis": {"orient": "top", "values": [1,1.5,2,2.5,3,3.5,4,4.5,5,5.5,6], "labels": false, "title": null}}, "y": {"field": "R", "type": "quantitative", "scale": {"domain": [-0.12, 0.05], "nice": false, "zero": false}, "axis": {"orient": "right", "values": [-0.12,-0.11,-0.1,-0.09,-0.08,-0.07,-0.06,-0.05,-0.04,-0.03,-0.02,-0.01,0,0.01,0.02,0.03,0.04,0.05], "labels": false, "title": null}}}},
  {"mark": {"type": "point", "opacity": 0}, "encoding": {"x": {"field": "E", "type": "quantitative", "scale": {"domain": [0.8, 6], "nice": false, "zero": false}, "axis": {"orient": "bottom", "values": [1,1.5,2,2.5,3,3.5,4,4.5,5,5.5,6], "labels": false, "title": null}}, "y": {"field": "R", "type": "quantitative", "scale": {"domain": [-0.12, 0.05], "nice": false, "zero": false}, "axis": {"orient": "left", "values": [-0.12,-0.11,-0.1,-0.09,-0.08,-0.07,-0.06,-0.05,-0.04,-0.03,-0.02,-0.01,0,0.01,0.02,0.03,0.04,0.05], "labels": false, "title": null}}}}
 ]},
{"width": 446, "height": 249, "data": {"name": "d"}, "transform": [{"filter": "datum.p === 'e'"}],
 "resolve": {"scale": {"x": "independent", "y": "independent"}},
 "layer": [
  {"layer": [
   {"mark": {"type": "area", "interpolate": "monotone"},
    "encoding": {"x": {"field": "E", "type": "quantitative", "scale": {"domain": [0.8, 6], "nice": false, "zero": false}, "axis": {"orient": "bottom", "values": [1,2,3,4,5,6], "format": "d", "labelPadding": 21, "titlePadding": 16, "title": "Energy (eV)"}},
     "y": {"field": "R", "type": "quantitative", "scale": {"domain": [-0.12, 0.05], "nice": false, "zero": false}, "axis": {"orient": "left", "values": [-0.1, -0.05, 0, 0.05], "format": ".2f", "labelExpr": "replace(datum.label, '\u2212', '-')", "labelPadding": 19, "title": null}},
     "y2": {"datum": 0},
     "color": {"datum": "ΔR/R", "type": "nominal", "scale": {"domain": ["ΔR/R", "AΔε''", "-BΔε'"], "range": ["#bebebe", "#ff1a1a", "#1a1aff"]}, "legend": null}}},
   {"mark": {"type": "line", "interpolate": "monotone", "stroke": "white", "strokeWidth": 1.3, "opacity": 0.85}, "encoding": {"x": {"field": "E", "type": "quantitative"}, "y": {"field": "R", "type": "quantitative"}}},
   {"data": {"values": [{}]}, "mark": {"type": "rule", "color": "#555", "strokeWidth": 1}, "encoding": {"y": {"datum": 0}}},
   {"mark": {"type": "line", "interpolate": "monotone", "strokeWidth": 1.8}, "encoding": {"x": {"field": "E", "type": "quantitative"}, "y": {"field": "A", "type": "quantitative"}, "color": {"datum": "AΔε''", "type": "nominal", "legend": null}}},
   {"mark": {"type": "line", "interpolate": "monotone", "strokeWidth": 1.8}, "encoding": {"x": {"field": "E", "type": "quantitative"}, "y": {"field": "B", "type": "quantitative"}, "color": {"datum": "-BΔε'", "type": "nominal", "legend": null}}},
   {"data": {"name": "labels"}, "transform": [{"filter": "datum.p === 'e'"}], "mark": {"type": "text", "align": "left", "baseline": "middle", "dx": 10, "dy": 1, "fontSize": 21, "font": "DejaVu Sans", "color": "#111"}, "encoding": {"x": {"datum": 0.8}, "y": {"datum": -0.1}, "text": {"field": "t"}}}
  ]},
  {"mark": {"type": "point", "opacity": 0}, "encoding": {"x": {"field": "E", "type": "quantitative", "scale": {"domain": [0.8, 6], "nice": false, "zero": false}, "axis": {"orient": "top", "values": [1,1.5,2,2.5,3,3.5,4,4.5,5,5.5,6], "labels": false, "title": null}}, "y": {"field": "R", "type": "quantitative", "scale": {"domain": [-0.12, 0.05], "nice": false, "zero": false}, "axis": {"orient": "right", "values": [-0.12,-0.11,-0.1,-0.09,-0.08,-0.07,-0.06,-0.05,-0.04,-0.03,-0.02,-0.01,0,0.01,0.02,0.03,0.04,0.05], "labels": false, "title": null}}}},
  {"mark": {"type": "point", "opacity": 0}, "encoding": {"x": {"field": "E", "type": "quantitative", "scale": {"domain": [0.8, 6], "nice": false, "zero": false}, "axis": {"orient": "bottom", "values": [1,1.5,2,2.5,3,3.5,4,4.5,5,5.5,6], "labels": false, "title": null}}, "y": {"field": "R", "type": "quantitative", "scale": {"domain": [-0.12, 0.05], "nice": false, "zero": false}, "axis": {"orient": "left", "values": [-0.12,-0.11,-0.1,-0.09,-0.08,-0.07,-0.06,-0.05,-0.04,-0.03,-0.02,-0.01,0,0.01,0.02,0.03,0.04,0.05], "labels": false, "title": null}}}}
 ]}
],
"config": {
 "background": "white",
 "view": {"stroke": "#8c8c8c", "strokeWidth": 1.2},
 "axis": {"domain": false, "grid": false, "tickColor": "#8c8c8c", "tickSize": -6, "tickWidth": 1, "labelFont": "DejaVu Sans", "labelFontSize": 17, "labelColor": "#111", "titleFont": "DejaVu Sans", "titleFontSize": 17, "titleFontWeight": "normal", "titleColor": "#333", "labelFlush": false, "labelOverlap": false}
}
}
